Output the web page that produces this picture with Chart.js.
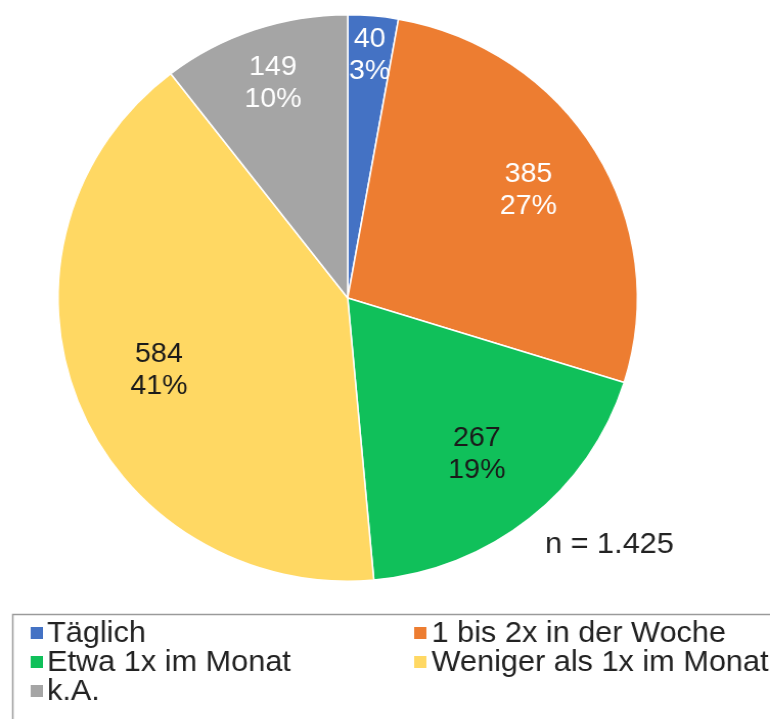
<!DOCTYPE html>
<html>
<head>
<meta charset="utf-8">
<script src="https://cdn.jsdelivr.net/npm/chart.js@4/dist/chart.umd.min.js"></script>
<style>
    html, body { margin: 0; padding: 0; background: #fff; overflow: hidden; }
    /* das Original ist leicht in die Breite gezogen */
    #wrap { width: 753px; height: 719px; transform: scaleX(1.0226); transform-origin: 0 0; }
</style>
</head>
<body>
<div id="wrap"><canvas id="myPie" width="753" height="719"></canvas></div>
<script>
// Daten
const categories = ['Täglich', '1 bis 2x in der Woche', 'Etwa 1x im Monat', 'Weniger als 1x im Monat', 'k.A.'];
const counts = [40, 385, 267, 584, 149];
const total = counts.reduce((a, b) => a + b, 0);

const sliceColors = ['#4472C4', '#ED7D31', '#10C05A', '#FFD863', '#A5A5A5'];
const textColors = ['#fff', '#fff', '#1a1a1a', '#1a1a1a', '#fff'];
// wie weit die Beschriftung vom Mittelpunkt liegt (Anteil am Radius)
const labelRadius = [0.86, 0.73, 0.71, 0.70, 0.80];

const FONT = '"Liberation Sans", Arial, sans-serif';

function fmtDe(n) {
    return String(n).replace(/\B(?=(\d{3})+(?!\d))/g, '.');
}

/**
 * Beschriftung in den Segmenten
 */
const sliceLabels = {
    id: 'sliceLabels',
    afterDatasetsDraw(chart) {
        const ctx = chart.ctx;
        const meta = chart.getDatasetMeta(0);
        ctx.save();
        ctx.font = '28px ' + FONT;
        ctx.textAlign = 'center';
        ctx.textBaseline = 'middle';
        meta.data.forEach((arc, i) => {
            const p = arc.getProps(['x', 'y', 'startAngle', 'endAngle', 'outerRadius'], true);
            const mid = (p.startAngle + p.endAngle) / 2;
            const r = p.outerRadius * labelRadius[i];
            const x = p.x + Math.cos(mid) * r;
            const y = p.y + Math.sin(mid) * r;
            const v = counts[i];
            ctx.fillStyle = textColors[i];
            ctx.fillText(String(v), x, y - 16);
            ctx.fillText(Math.round(v / total * 100) + '%', x, y + 16);
        });
        ctx.restore();
    }
};

/**
 * Legende unten + n
 */
const boxLegend = {
    id: 'boxLegend',
    afterDraw(chart) {
        const ctx = chart.ctx;
        ctx.save();
        // n = ...
        ctx.font = '30px ' + FONT;
        ctx.fillStyle = '#222';
        ctx.textAlign = 'left';
        ctx.textBaseline = 'alphabetic';
        ctx.fillText('n = ' + fmtDe(total), 533, 553);

        // Rahmen
        ctx.strokeStyle = '#9a9a9a';
        ctx.lineWidth = 1.5;
        ctx.strokeRect(12.5, 614.5, 800, 200);

        const colX = [30, 405];
        const rowY = [642, 671, 700];
        categories.forEach((c, i) => {
            const x = colX[i % 2];
            const y = rowY[Math.floor(i / 2)];
            ctx.fillStyle = sliceColors[i];
            ctx.fillRect(x, y - 15, 12, 12);
            ctx.fillStyle = '#222';
            ctx.fillText(c, x + (i % 2 ? 17 : 16), y);
        });
        ctx.restore();
    }
};

const pieConfig = {
    type: 'pie',
    data: {
        labels: categories,
        datasets: [{
            data: counts,
            backgroundColor: sliceColors,
            borderColor: '#fff',
            borderWidth: 1.5,
            hoverOffset: 0
        }]
    },
    options: {
        responsive: false,
        animation: false,
        layout: {
            padding: { left: 56, right: 129, top: 14, bottom: 137 }
        },
        plugins: {
            legend: { display: false },
            tooltip: { enabled: false }
        }
    },
    plugins: [sliceLabels, boxLegend]
};

var myPie = new Chart(document.getElementById('myPie'), pieConfig);
</script>
</body>
</html>
